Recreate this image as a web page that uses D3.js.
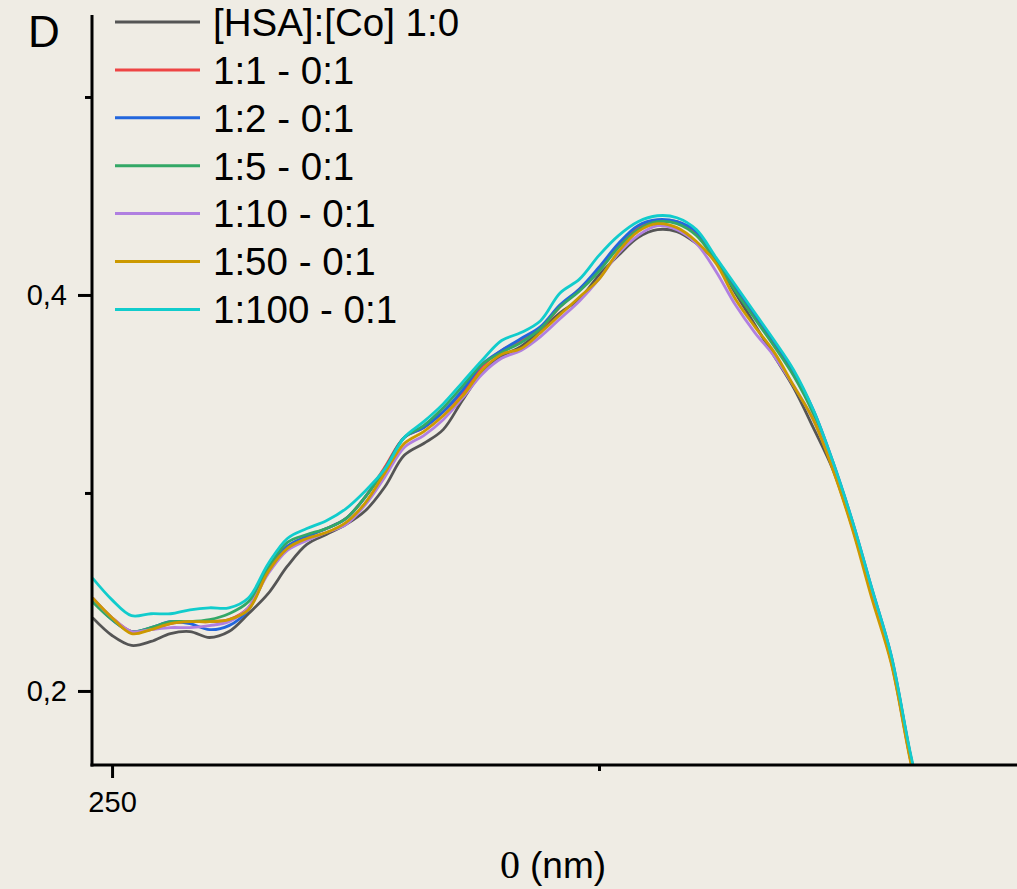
<!DOCTYPE html>
<html>
<head>
<meta charset="utf-8">
<script src="https://cdn.jsdelivr.net/npm/d3@7/dist/d3.min.js"></script>
<style>
  html, body { margin: 0; padding: 0; background: #efece4; }
  svg { display: block; font-family: "Liberation Sans", Arial, sans-serif; }
</style>
</head>
<body>
<svg id="chart" width="1017" height="889"></svg>
<script>
// Wavelength grid (nm)
const wavelengths = [249,250,251,252,253,254,255,256,257,258,259,260,261,262,263,264,265,266,267,268,269,270,
                     271,272,273,274,275,276,277,278,279,280,281,282,283,284,285,286,287,288,289,290,291,292];

// Absorbance of each sample
const hsa_1_0 = [0.237,0.228,0.223,0.225,0.229,0.230,0.227,0.230,0.239,0.249,0.263,0.274,0.279,0.284,0.291,0.303,0.319,0.325,0.332,0.347,0.361,0.369,
                 0.374,0.382,0.391,0.398,0.410,0.420,0.429,0.433,0.432,0.426,0.417,0.401,0.385,0.369,0.353,0.333,0.312,0.283,0.249,0.215,0.165,0.122];
const r_1_1   = [0.247,0.237,0.230,0.231,0.234,0.235,0.235,0.236,0.242,0.261,0.273,0.278,0.282,0.287,0.298,0.313,0.328,0.333,0.341,0.351,0.364,0.372,
                 0.377,0.383,0.394,0.403,0.413,0.425,0.434,0.437,0.437,0.431,0.418,0.403,0.389,0.376,0.360,0.341,0.315,0.285,0.251,0.217,0.167,0.124];
const r_1_2   = [0.246,0.236,0.230,0.232,0.235,0.234,0.231,0.233,0.241,0.260,0.273,0.278,0.282,0.287,0.298,0.312,0.328,0.333,0.341,0.352,0.365,0.372,
                 0.378,0.384,0.395,0.403,0.414,0.426,0.435,0.438,0.437,0.432,0.418,0.404,0.390,0.376,0.361,0.342,0.316,0.286,0.252,0.218,0.167,0.124];
const r_1_5   = [0.245,0.236,0.230,0.232,0.235,0.235,0.236,0.239,0.245,0.262,0.275,0.279,0.282,0.287,0.298,0.312,0.328,0.334,0.343,0.354,0.365,0.371,
                 0.376,0.383,0.394,0.402,0.412,0.424,0.433,0.437,0.436,0.430,0.417,0.402,0.388,0.374,0.359,0.340,0.314,0.284,0.250,0.216,0.166,0.123];
const r_1_10  = [0.247,0.237,0.230,0.231,0.232,0.232,0.233,0.235,0.242,0.259,0.271,0.276,0.280,0.284,0.294,0.308,0.323,0.329,0.337,0.348,0.360,0.368,
                 0.372,0.379,0.388,0.397,0.408,0.421,0.430,0.435,0.433,0.426,0.412,0.395,0.381,0.369,0.354,0.337,0.313,0.283,0.249,0.215,0.165,0.122];
const r_1_50  = [0.247,0.237,0.229,0.231,0.234,0.235,0.235,0.236,0.241,0.260,0.272,0.277,0.280,0.285,0.295,0.310,0.325,0.331,0.339,0.349,0.362,0.370,
                 0.373,0.381,0.390,0.399,0.408,0.422,0.432,0.436,0.434,0.427,0.416,0.398,0.384,0.371,0.354,0.337,0.312,0.282,0.247,0.214,0.164,0.121];
const r_1_100 = [0.257,0.246,0.238,0.239,0.239,0.241,0.242,0.242,0.247,0.264,0.277,0.282,0.286,0.292,0.301,0.312,0.328,0.336,0.345,0.356,0.367,0.377,
                 0.381,0.387,0.401,0.408,0.420,0.430,0.437,0.440,0.439,0.433,0.419,0.405,0.391,0.377,0.362,0.342,0.316,0.286,0.252,0.218,0.168,0.125];

const seriesNames  = ["[HSA]:[Co] 1:0", "1:1 - 0:1", "1:2 - 0:1", "1:5 - 0:1", "1:10 - 0:1", "1:50 - 0:1", "1:100 - 0:1"];
const seriesValues = [hsa_1_0, r_1_1, r_1_2, r_1_5, r_1_10, r_1_50, r_1_100];
const seriesColors = ["#555555", "#ee4444", "#2266dd", "#33a866", "#b07fe0", "#cc9900", "#11cccc"];

const yMajorTicks = [0.2, 0.4];
const yMinorTicks = [0.3, 0.5];
const xMajorTicks = [250];
const xMinorTicks = [275];

const svg = d3.select("#chart");
const W = 1017, H = 889;
const plot = { left: 92, right: 1017, top: 15, bottom: 765 };

svg.append("rect").attr("width", W).attr("height", H).attr("fill", "#efece4");

const x = d3.scaleLinear().domain([248.97, 296.46]).range([plot.left, plot.right]);
const y = d3.scaleLinear().domain([0.1626, 0.5414]).range([plot.bottom, plot.top]);

svg.append("defs").append("clipPath").attr("id", "plotClip")
  .append("rect")
  .attr("x", plot.left).attr("y", plot.top)
  .attr("width", plot.right - plot.left).attr("height", plot.bottom - plot.top);

// Spectra
const line = d3.line()
  .x((d, i) => x(wavelengths[i]))
  .y(d => y(d))
  .curve(d3.curveCatmullRom.alpha(0.5));

const curves = svg.append("g").attr("clip-path", "url(#plotClip)");
seriesValues.forEach((vals, k) => {
  curves.append("path")
    .datum(vals)
    .attr("d", line)
    .attr("fill", "none")
    .attr("stroke", seriesColors[k])
    .attr("stroke-width", 2.8)
    .attr("stroke-linejoin", "round");
});

// Axes
const fmt = d => d3.format(".1f")(d).replace(".", ",");

const yMajor = svg.append("g").attr("transform", `translate(${plot.left},0)`)
  .call(d3.axisLeft(y).tickValues(yMajorTicks).tickSize(14).tickPadding(11).tickFormat(fmt));
const yMinor = svg.append("g").attr("transform", `translate(${plot.left},0)`)
  .call(d3.axisLeft(y).tickValues(yMinorTicks).tickSize(7).tickFormat(""));
const xMajor = svg.append("g").attr("transform", `translate(0,${plot.bottom})`)
  .call(d3.axisBottom(x).tickValues(xMajorTicks).tickSize(13).tickPadding(13).tickFormat(d3.format("d")));
const xMinor = svg.append("g").attr("transform", `translate(0,${plot.bottom})`)
  .call(d3.axisBottom(x).tickValues(xMinorTicks).tickSize(6).tickFormat(""));

[yMajor, yMinor, xMajor, xMinor].forEach(g => {
  g.select(".domain").remove();
  g.selectAll(".tick line").attr("stroke", "#000").attr("stroke-width", 3);
  g.selectAll(".tick text").attr("fill", "#000").attr("font-size", 29)
    .attr("font-family", "'Liberation Sans', Arial, sans-serif");
});

svg.append("line").attr("x1", plot.left).attr("x2", plot.left)
  .attr("y1", plot.top).attr("y2", plot.bottom + 1.5)
  .attr("stroke", "#000").attr("stroke-width", 3);
svg.append("line").attr("x1", plot.left - 1.5).attr("x2", plot.right)
  .attr("y1", plot.bottom).attr("y2", plot.bottom)
  .attr("stroke", "#000").attr("stroke-width", 3);

// Axis title
const xt = svg.append("text").attr("x", 500).attr("y", 878).attr("fill", "#000");
xt.append("tspan").attr("font-family", "'Liberation Serif', 'Times New Roman', serif")
  .attr("font-size", 40).text("0 ");
xt.append("tspan").attr("font-size", 37).text("(nm)");

// Panel letter
svg.append("text").attr("x", 28).attr("y", 47).attr("font-size", 44).attr("fill", "#000").text("D");

// Legend
const legend = svg.append("g");
seriesNames.forEach((name, k) => {
  const ly = 22 + k * 47.9;
  legend.append("line").attr("x1", 115).attr("x2", 200).attr("y1", ly).attr("y2", ly)
    .attr("stroke", seriesColors[k]).attr("stroke-width", 3);
  legend.append("text").attr("x", 213).attr("y", ly).attr("dy", "0.36em")
    .attr("font-size", 38.5).attr("fill", "#000").text(name);
});
</script>
</body>
</html>
